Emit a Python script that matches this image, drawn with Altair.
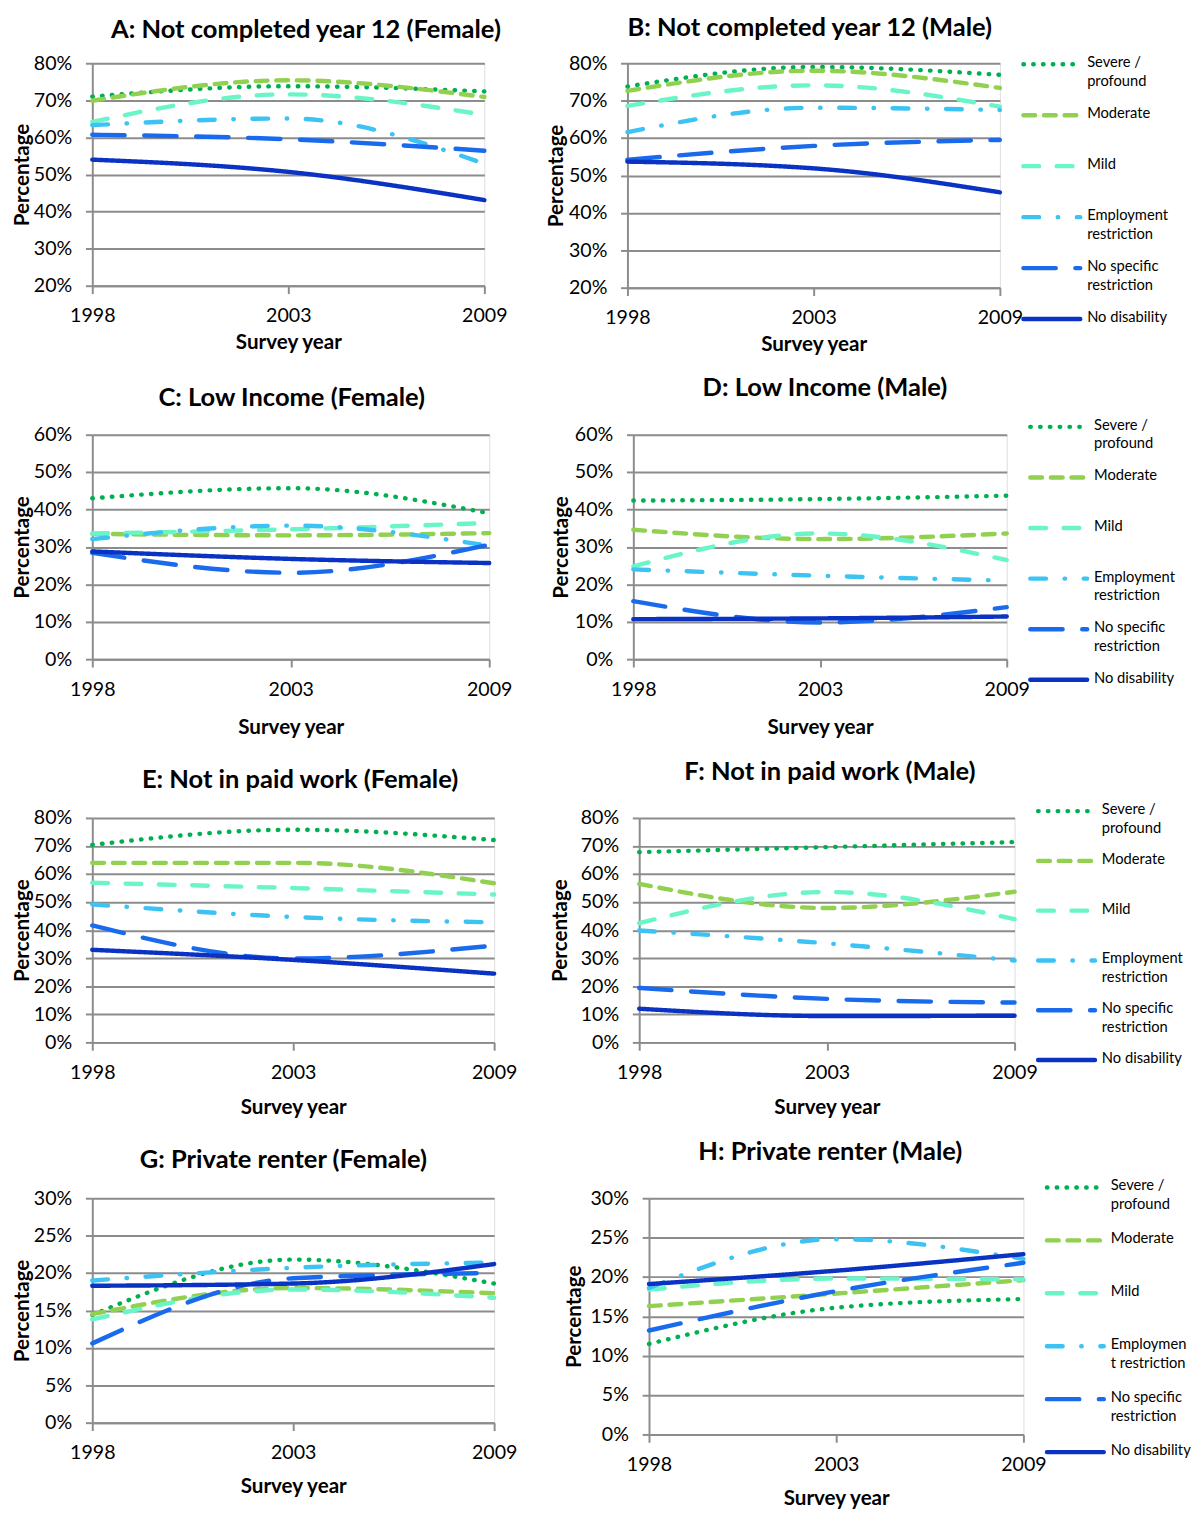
import altair as alt
import pandas as pd

FONT = "Lato"

years = ["1998", "2003", "2009"]
series = ["Severe / profound", "Moderate", "Mild", "Employment restriction",
          "No specific restriction", "No disability"]
colors = ["#00B050", "#92D050", "#6AF5C9", "#3CC3F4", "#1A6AEE", "#0A33C4"]
dashes = [[0.5, 9.5], [12, 9], [16, 18], [16, 19, 0.5, 19], [33, 20], [1, 0]]
legend_labels = ["Severe /\nprofound", "Moderate", "Mild", "Employment\nrestriction",
                 "No specific\nrestriction", "No disability"]
legend_labels_h = ["Severe /\nprofound", "Moderate", "Mild", "Employmen\nt restriction",
                   "No specific\nrestriction", "No disability"]

# values in percent, one list per series (order as in `series`), years 1998/2003/2009
a_values = [[71.0, 73.8, 72.4], [69.9, 75.4, 70.9], [64.2, 71.6, 66.1],
            [63.3, 65.1, 52.9], [60.7, 59.5, 56.4], [54.0, 50.7, 43.1]]
b_values = [[73.8, 79.0, 76.9], [72.6, 78.0, 73.4], [68.6, 74.1, 68.4],
            [61.6, 68.1, 67.5], [54.2, 57.9, 59.5], [53.7, 51.9, 45.5]]
c_values = [[43.0, 45.7, 39.0], [33.5, 33.1, 33.7], [33.6, 34.7, 36.4],
            [32.1, 35.7, 30.3], [28.4, 23.1, 30.6], [28.8, 26.8, 25.7]]
d_values = [[42.4, 42.8, 43.7], [34.6, 32.1, 33.6], [24.8, 33.6, 26.5],
            [24.0, 22.3, 21.0], [15.5, 9.8, 13.9], [10.7, 10.9, 11.4]]
e_values = [[70.4, 75.8, 72.1], [64.0, 64.0, 56.7], [56.9, 55.0, 52.7],
            [49.2, 44.7, 42.8], [41.7, 29.9, 34.5], [33.0, 29.4, 24.5]]
f_values = [[67.8, 69.6, 71.4], [56.5, 47.9, 53.7], [42.5, 53.6, 43.9],
            [39.9, 35.3, 29.2], [19.4, 15.5, 14.2], [12.0, 9.4, 9.5]]
g_values = [[14.4, 21.8, 18.6], [14.5, 18.0, 17.3], [13.8, 17.8, 16.7],
            [19.0, 20.7, 21.4], [10.6, 19.3, 20.0], [18.3, 18.6, 21.2]]
h_values = [[11.5, 16.1, 17.2], [16.3, 17.9, 19.6], [18.4, 19.8, 19.7],
            [18.6, 24.8, 22.3], [13.2, 18.2, 21.8], [19.1, 20.8, 22.9]]

ticks_20_80 = [20, 30, 40, 50, 60, 70, 80]
ticks_0_60 = [0, 10, 20, 30, 40, 50, 60]
ticks_0_80 = [0, 10, 20, 30, 40, 50, 60, 70, 80]
ticks_0_30 = [0, 5, 10, 15, 20, 25, 30]

GRID = "#8C8C8C"
color_scale = alt.Scale(domain=series, range=colors)
dash_scale = alt.Scale(domain=series, range=dashes)


def panel(title, values, ticks, w, h, title_offset, title_dx, y_tp, x_tp,
          labels=None, leg_range=None):
    rows = []
    for s, vals in zip(series, values):
        for yr, v in zip(years, vals):
            rows.append({"year": yr, "series": s, "value": v / 100})
    df = pd.DataFrame(rows)
    tvals = [t / 100 for t in ticks]
    lines = alt.Chart(df).mark_line(
        strokeWidth=4.5, strokeCap="round", interpolate="monotone"
    ).encode(
        x=alt.X("year:O", scale=alt.Scale(type="point", padding=0),
                axis=alt.Axis(title="Survey year", labelAngle=0, labelFontSize=20,
                              labelFont=FONT, labelColor="#000", labelPadding=13,
                              titleFont=FONT, titleFontSize=21, titleFontWeight="bold",
                              titleColor="#000", titlePadding=x_tp,
                              domainColor=GRID, domainWidth=2, tickColor=GRID,
                              tickWidth=2, tickSize=8, grid=False)),
        y=alt.Y("value:Q", scale=alt.Scale(domain=[tvals[0], tvals[-1]], nice=False, zero=False),
                axis=alt.Axis(title="Percentage", format=".0%", values=tvals,
                              labelFontSize=20, labelFont=FONT, labelColor="#000",
                              labelPadding=14, titleFont=FONT, titleFontSize=21,
                              titleFontWeight="bold", titleColor="#000", titlePadding=y_tp,
                              domainColor=GRID, domainWidth=2, tickColor=GRID,
                              tickWidth=2, tickSize=7, grid=True, gridColor=GRID,
                              gridWidth=2)),
        color=alt.Color("series:N", scale=color_scale, legend=None),
        strokeDash=alt.StrokeDash("series:N", scale=dash_scale, legend=None),
    )
    chart = lines
    if labels is not None:
        ldf = pd.DataFrame({"series": series, "label": labels})
        ly = alt.Y("series:N", axis=None,
                   scale=alt.Scale(type="point", domain=series, range=leg_range, padding=0))
        rules = alt.Chart(ldf).mark_rule(strokeWidth=4.5, strokeCap="round").encode(
            x=alt.value(w + 24), x2=alt.value(w + 82), y=ly,
            color=alt.Color("series:N", scale=color_scale, legend=None),
            strokeDash=alt.StrokeDash("series:N", scale=dash_scale, legend=None),
        )
        texts = alt.Chart(ldf).mark_text(
            align="left", baseline="top", dy=-9, fontSize=15, font=FONT,
            lineBreak="\n", lineHeight=19, color="#000"
        ).encode(x=alt.value(w + 89), y=ly, text="label:N")
        chart = alt.layer(lines, rules, texts).resolve_scale(y="independent")
    return chart.properties(
        width=w, height=h,
        title=alt.TitleParams(title, font=FONT, fontSize=26, fontWeight="bold",
                              color="#000", anchor="middle", offset=title_offset,
                              dx=title_dx),
    )


A = panel("A: Not completed year 12 (Female)", a_values, ticks_20_80, 400, 227, 11, 18, 1, 6)
B = panel("B: Not completed year 12 (Male)", b_values, ticks_20_80, 380, 229, 13, -4, 2, 6,
          legend_labels, [1, 261])
C = panel("C: Low Income (Female)", c_values, ticks_0_60, 405, 229, 14, 1, 1, 18)
D = panel("D: Low Income (Male)", d_values, ticks_0_60, 381, 229, 17, 5, 3, 18,
          legend_labels, [-8, 250])
E = panel("E: Not in paid work (Female)", e_values, ticks_0_80, 410, 229, 16, 7, 1, 15)
F = panel("F: Not in paid work (Male)", f_values, ticks_0_80, 383, 229, 18, 3, 10, 15,
          legend_labels, [-7, 247])
G = panel("G: Private renter (Female)", g_values, ticks_0_30, 410, 229, 16, -10, 1, 13)
H = panel("H: Private renter (Male)", h_values, ticks_0_30, 382, 241, 14, -6, 6, 13,
          legend_labels_h, [-11, 259])

chart = alt.vconcat(
    alt.hconcat(A, B, spacing=38),
    alt.hconcat(C, D, spacing=38),
    alt.hconcat(E, F, spacing=32),
    alt.hconcat(G, H, spacing=46),
    spacing=20,
).properties(
    padding={"left": 3, "top": -9, "right": 0, "bottom": 0}
).configure_view(stroke=None).configure(font=FONT)

chart.save("out.html", embed_options={"renderer": "svg", "actions": False})
